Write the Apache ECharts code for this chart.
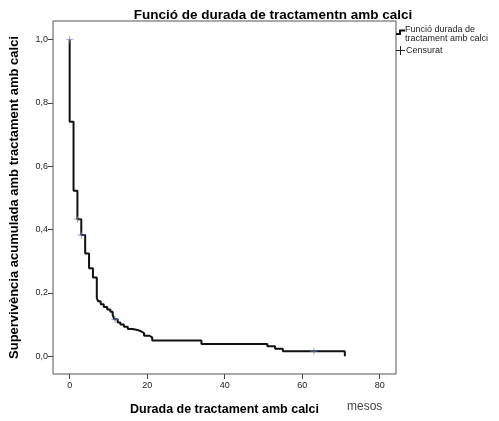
<!DOCTYPE html>
<html>
<head>
<meta charset="utf-8">
<script src="https://cdn.jsdelivr.net/npm/echarts@6/dist/echarts.min.js"></script>
<style>
html,body{margin:0;padding:0;background:#fff;}
#chart{width:499px;height:421px;}
</style>
</head>
<body>
<div id="chart"></div>
<script>
// Kaplan-Meier step data (months, cumulative survival)
const times = [0, 0, 1, 2, 3, 4, 5, 6, 7, 7.3, 8, 8.8, 9.7, 10.5, 11.1, 11.5, 12.4, 13.1, 14, 15, 16.2, 17.5, 18.4, 19.2, 20.5, 21.3, 34, 51, 53, 55, 71];
const survival = [1.0, 0.741, 0.523, 0.433, 0.383, 0.325, 0.278, 0.249, 0.185, 0.174, 0.164, 0.156, 0.148, 0.141, 0.131, 0.117, 0.107, 0.100, 0.093, 0.086, 0.083, 0.079, 0.073, 0.065, 0.060, 0.050, 0.039, 0.032, 0.024, 0.016, 0.0];
// Censored observations
const censorTimes = [0, 2, 3, 11.7, 63];
const censorSurv = [1.0, 0.433, 0.383, 0.117, 0.016];
// Tick labels
const xTicks = [0, 20, 40, 60, 80];
const yTicks = [0, 0.2, 0.4, 0.6, 0.8, 1.0];

const titleText = 'Funció de durada de tractamentn amb calci';
const yName = 'Supervivència acumulada amb tractament amb calci';
const xName = 'Durada de tractament amb calci';
const legendLine = ['Funció durada de', 'tractament amb calci'];
const legendCensor = 'Censurat';

const chart = echarts.init(document.getElementById('chart'), null, {renderer: 'canvas'});
const font = 'Arial, "Liberation Sans", sans-serif';
const plusPath = 'path://M4.4,0h1.2v10h-1.2z M0,4.4h10v1.2h-10z';

chart.setOption({
  animation: false,
  backgroundColor: '#fff',
  title: {
    text: titleText,
    left: 268, top: 3, textAlign: 'center',
    textStyle: {fontFamily: font, fontSize: 13.5, fontWeight: 'bold', color: '#000'}
  },
  grid: {left: 49, right: 103, top: 21, bottom: 42, show: true, borderColor: '#555', borderWidth: 1, backgroundColor: 'transparent'},
  xAxis: {
    type: 'value', min: -4.3, max: 84.2,
    splitLine: {show: false},
    axisLine: {show: false, onZero: false},
    axisTick: {show: true, length: 5, lineStyle: {color: '#444'}, customValues: xTicks},
    axisLabel: {customValues: xTicks, fontFamily: font, fontSize: 9, color: '#222', margin: 7},
    name: xName, nameLocation: 'middle', nameGap: 29,
    nameTextStyle: {fontFamily: font, fontSize: 12.5, fontWeight: 'bold', color: '#000'}
  },
  yAxis: {
    type: 'value', min: -0.056, max: 1.059,
    splitLine: {show: false},
    axisLine: {show: false, onZero: false},
    axisTick: {show: true, length: 5, lineStyle: {color: '#444'}, customValues: yTicks},
    axisLabel: {customValues: yTicks, fontFamily: font, fontSize: 9, color: '#222', margin: 5,
      formatter: v => v.toFixed(1).replace('.', ',')},
    name: yName, nameLocation: 'middle', nameGap: 32, nameRotate: 90,
    nameTextStyle: {fontFamily: font, fontSize: 13, fontWeight: 'bold', color: '#000'}
  },
  series: [
    {
      type: 'line', step: 'end', showSymbol: false,
      data: times.map((t, i) => [t, survival[i]]),
      lineStyle: {color: '#111', width: 2}
    },
    {
      type: 'scatter', symbol: plusPath, symbolSize: 7,
      data: censorTimes.map((t, i) => [t, censorSurv[i]]),
      itemStyle: {color: '#5577c8'}, z: 5
    }
  ],
  graphic: [
    {type: 'polyline', shape: {points: [[396, 34], [400, 34], [400, 30.5], [405, 30.5]]}, style: {stroke: '#111', lineWidth: 2, fill: null}},
    {type: 'text', left: 405, top: 25, style: {text: legendLine.join('\n'), font: '9px Arial, "Liberation Sans", sans-serif', fill: '#222', lineHeight: 9}},
    {type: 'line', shape: {x1: 396, y1: 50.5, x2: 405, y2: 50.5}, style: {stroke: '#222', lineWidth: 1}},
    {type: 'line', shape: {x1: 400.5, y1: 46, x2: 400.5, y2: 55}, style: {stroke: '#222', lineWidth: 1}},
    {type: 'text', left: 406, top: 46, style: {text: legendCensor, font: '9px Arial, "Liberation Sans", sans-serif', fill: '#222'}},
    {type: 'text', left: 347, top: 401, style: {text: 'mesos', font: '12px Arial, "Liberation Sans", sans-serif', fill: '#444'}}
  ]
});
</script>
</body>
</html>
